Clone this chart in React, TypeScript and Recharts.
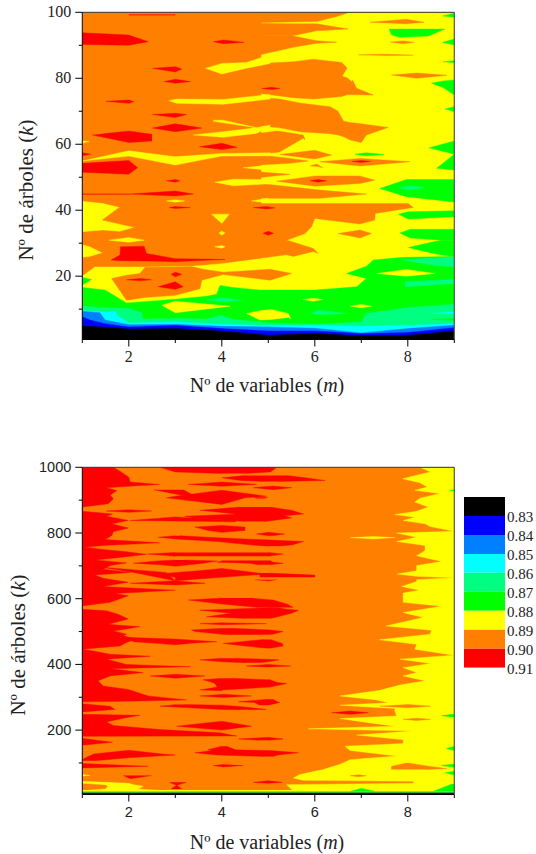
import React from "react";
import { ComposedChart, Area, XAxis, YAxis, ReferenceLine, Label } from "recharts";

type Row = [number, number, number];
type Patch = Row[];

const RED = "#ff0000", ORANGE = "#ff8000", YELLOW = "#ffff00", GREEN = "#00ff00", SPRING = "#00ff80",
  CYAN = "#00ffff", AZURE = "#0080ff", BLUE = "#0000ff", BLACK = "#000000";

// ---------- Upper map: rows are [m, k low, k high] ----------
const topBase: Patch[] = [[[1, 0.8, 100], [9, 0.8, 100]]];
const topYellowBase: Patch[] = [[[4.85, 0.8, 100], [9, 0.8, 100]]];
const topOrangeTongues: Patch[] = [
  [[4.82, 96.9, 100], [6.04, 97.2, 100], [6.47, 98.7, 100], [6.72, 99.9, 100]],
  [[4.82, 93.1, 96.7], [5.5, 92.8, 96.5], [6.04, 94.4, 96.5], [6.72, 94.9, 94.9]],
  [[4.82, 87.1, 93.1], [5.54, 89.4, 92.8], [6.04, 90.6, 91.4], [6.47, 90.9, 90.9]],
  [[4.82, 75.4, 84.5], [5.54, 74.1, 85], [5.97, 73.7, 85.8], [6.58, 74.5, 84.8], [6.7, 75, 83], [6.72, 75, 80.7], [6.83, 75, 79], [6.9, 75, 77], [7.26, 74.9, 74.9]],
  [[4.82, 65.5, 74.2], [5.25, 65, 73.7], [5.68, 63.8, 72.5], [6.33, 63.2, 71.4], [6.5, 62.8, 70], [6.62, 62.3, 67], [6.76, 61.3, 66.6], [7, 60.5, 66.2], [7.11, 62.8, 66], [7.58, 65.1, 65.1]],
  [[4.82, 57.2, 63.3], [5.18, 57.5, 64], [5.25, 57.7, 63.9], [5.75, 61.8, 62.8], [5.79, 61.3, 61.5]],
  [[4.82, 53.7, 56.7], [5.47, 54.2, 55.7], [5.86, 54.9, 54.9]],
  [[5.25, 56.9, 56.9], [6, 55.5, 58.2], [6.36, 56.7, 56.7]],
  [[6.11, 54.7, 54.7], [6.97, 53.4, 55.7], [8.05, 54.7, 54.7]],
  [[5.9, 53.4, 53.4], [6.04, 53.3, 54], [6.17, 52.9, 52.9]],
  [[7.19, 97, 97], [7.97, 96.5, 97.9], [8.35, 97, 97]],
  [[7.63, 91, 91], [7.9, 90.5, 91.3], [8.13, 90.9, 90.9]],
  [[6.94, 87.1, 87.1], [7.54, 86.9, 87.3], [8.12, 87, 87]],
  [[7.65, 81, 81], [8.19, 80, 81.6], [8.84, 80.9, 80.9]],
  [[4.82, 49.9, 51.6], [5.47, 50.9, 50.9]],
  [[5.18, 48.8, 48.8], [6, 47.3, 50.4], [6.97, 48.1, 50.4], [7.29, 49.1, 49.1]],
  [[4.82, 43.6, 48.1], [6.11, 43.6, 46.1], [7.11, 44.9, 44.9]],
  [[4.82, 30.9, 42], [5.39, 30.9, 42], [5.79, 32.9, 42], [5.93, 35, 42], [6, 37.5, 42], [6.97, 35.8, 42], [7.29, 37, 42], [7.3, 39, 42], [8.01, 40.6, 42], [8.12, 40.8, 40.8]],
  [[4.82, 25.4, 31], [5.39, 26.5, 31], [5.54, 26, 30.3], [5.97, 27.5, 28.4], [6.07, 26.9, 26.9]],
  [[6.5, 32.9, 32.9], [6.97, 31.6, 34], [7.22, 32.9, 32.9]],
];
const topYellowPatches: Patch[] = [
  [[6.6, 80.7, 80.7], [6.7, 80.2, 83], [6.8, 79, 84]],
  [[3.65, 83, 83], [4, 81.3, 84.5], [4.53, 83, 84.8], [5.04, 84.5, 87.1]],
  [[2.86, 73.2, 73.2], [3.03, 72.4, 73.7], [4.03, 72.1, 73.6], [5.04, 73.7, 75.1]],
  [[3.39, 62.8, 62.8], [4.03, 62.1, 63.8], [4.75, 63.3, 65], [5.04, 65.3, 65.8]],
  [[3.82, 67, 67.3], [4.03, 66.5, 67.3], [4.75, 65, 65]],
  [[1, 54.9, 54.9], [2, 56.4, 58], [3, 53.7, 56.2], [4, 56.4, 57.2], [5.04, 56.5, 57.4]],
  [[4.46, 52.9, 52.9], [5.04, 52, 53.7]],
  [[1, 60.3, 61], [1.15, 60.9, 60.9]],
  [[1, 33.5, 42.7], [1.45, 34, 42], [1.8, 33.6, 40.8], [2.11, 34.8, 34.8]],
  [[1.57, 30.9, 30.9], [2, 30.3, 31.7], [2.33, 30.9, 30.9]],
  [[3.78, 38.8, 38.8], [4, 36, 38.8], [4.16, 38.8, 38.8]],
  [[3.94, 33.1, 33.1], [4, 32.4, 33.7], [4.07, 33.1, 33.1]],
  [[3.85, 28.9, 28.9], [4, 28.5, 29.3], [4.07, 28.9, 28.9]],
  [[1, 25.7, 29.5], [1.16, 26, 28.9], [1.42, 27.1, 27.1]],
  [[3.85, 48.5, 48.5], [4.25, 47.4, 49.4], [5, 48, 49.3]],
  [[2.81, 42.8, 42.8], [3, 42.4, 43.2], [3.2, 42.8, 42.8]],
  [[4.64, 42.8, 42.8], [4.89, 42.4, 43.4], [5, 42.3, 43.6]],
  [[1, 0.8, 20], [1.27, 0.8, 22.8], [2.35, 0.8, 22.8], [3.35, 0.8, 23], [4, 0.8, 23.8], [4.9, 0.8, 25.4]],
];
const topOrangeOver: Patch[] = [
  [[1.43, 37, 37], [1.81, 35.8, 41], [2.11, 34.8, 41]],
  [[1.63, 19.3, 19.3], [1.95, 12.7, 20.3], [2.24, 13.3, 20.8], [2.35, 13.5, 22.7], [3, 14.2, 22.8], [3.35, 15.5, 22.9], [3.53, 16.2, 22.3], [3.57, 18.8, 22.2], [4.03, 20.5, 21.2], [5.04, 18.8, 22.1], [5.5, 20.8, 20.8]],
];
const topGreen: Patch[] = [
  [[7.6, 94.9, 94.9], [7.65, 93.1, 94.9], [7.83, 92.4, 94.9], [8.44, 92.8, 94.9], [8.8, 94.9, 94.9]],
  [[8.75, 98.9, 98.9], [9, 98.5, 99.7]],
  [[8.75, 90.9, 90.9], [9, 90.1, 91.9]],
  [[8.76, 85, 85], [9, 84.7, 85.3]],
  [[8.51, 78.5, 78.5], [8.76, 77.2, 79.2], [9, 74.9, 79.5]],
  [[8.8, 70.7, 70.7], [9, 69.9, 71.4]],
  [[8.46, 58.9, 58.9], [9, 57, 61]],
  [[8.62, 52.7, 52.7], [9, 52.2, 57]],
  [[6.86, 57, 57], [7.11, 56.5, 57.4], [7.49, 56.9, 56.9]],
  [[7.4, 46.6, 46.6], [7.97, 44.1, 49.3], [9, 42.5, 49.3]],
  [[7.8, 38.8, 38.8], [8.01, 37.3, 39.5], [9, 38, 39.8]],
  [[7.83, 33.1, 33.1], [8.05, 31.6, 34.2], [8.73, 30.9, 34.2], [9, 30.9, 34.2]],
  [[8.01, 28.7, 28.7], [8.55, 26.9, 30.4], [8.73, 26.4, 30.9], [9, 26, 30.9]],
  [[1, 17.3, 19.6], [1.2, 19, 19]],
  [[6.68, 20.8, 20.8], [7.11, 19.3, 23], [7.26, 18, 24.9]],
  [[1, 0.8, 16.6], [1.49, 0.8, 15.8], [1.95, 0.8, 11.9], [3, 0.8, 13], [3.67, 0.8, 13.9], [3.89, 0.8, 14.5], [3.96, 0.8, 17.2], [4.25, 0.8, 16.6], [4.82, 0.8, 15.8], [6, 0.8, 15.8], [6.9, 0.8, 16.8], [7.11, 0.8, 19.3], [7.26, 0.8, 24.9], [7.9, 0.8, 25.7], [9, 0.8, 26]],
];
const topYellowLenses: Patch[] = [
  [[2.71, 11.2, 11.2], [3, 8.9, 12.4], [4.18, 10.9, 10.9]],
  [[7.33, 20.8, 20.8], [7.97, 20, 22], [8.58, 20.8, 20.8]],
  [[5.75, 12.9, 12.9], [5.97, 12.4, 13.3], [6.18, 12.9, 12.9]],
  [[6.76, 10.9, 10.9], [7, 10.4, 11.4], [7.22, 10.9, 10.9]],
  [[4.53, 8.7, 8.7], [4.82, 6.7, 9.5], [5.07, 6.9, 9.9], [5.43, 7.5, 8.7], [5.49, 7, 7]],
];
const topSpring: Patch[] = [
  [[7.87, 25, 25], [8.48, 23.5, 25.4], [9, 22.8, 25.9]],
  [[7.94, 16.8, 18.3], [9, 17.8, 19]],
  [[3.67, 12.9, 12.9], [4.03, 12.2, 13.4], [4.43, 12.7, 12.7]],
  [[7.8, 46.8, 46.8], [8.05, 46.2, 47.4], [8.35, 46.8, 46.8]],
  [[5.93, 8.7, 8.7], [6.07, 8.4, 9.7], [6.72, 8.7, 8.7]],
  [[1, 0.8, 10.9], [1.49, 0.8, 10.5], [2, 0.8, 10.2], [2.28, 0.8, 8.9], [2.3, 0.8, 7], [3, 0.8, 7.2], [3.67, 0.8, 7], [4, 0.8, 8.2], [4.25, 0.8, 6.9], [5, 0.8, 5.9], [6, 0.8, 5.4], [7, 0.8, 6.1], [7.11, 0.8, 8.7], [8, 0.8, 10.5], [9, 0.8, 11.5]],
];
const topGreenInner: Patch[] = [[[8.51, 6.9, 6.9], [9, 6.6, 7.2]]];
const topCyan: Patch[] = [
  [[8.51, 8.7, 8.7], [9, 8.6, 9.2]],
  [[1, 0.8, 9.6], [1.38, 0.8, 9.2], [1.72, 0.8, 9.2], [1.76, 0.8, 8], [2, 0.8, 5.8], [3, 0.8, 6.1], [4, 0.8, 5.4], [5, 0.8, 5.1], [6, 0.8, 5.1], [7, 0.8, 4.8], [8, 0.8, 5.1], [9, 0.8, 5.6]],
];
const topAzure: Patch[] = [[[1, 0.8, 9.4], [1.38, 0.8, 8.9], [1.49, 0.8, 6.7], [2, 0.8, 5.3], [3, 0.8, 5.4], [4, 0.8, 4.8], [5, 0.8, 4.6], [6, 0.8, 4.2], [7, 0.8, 2.8], [8, 0.8, 4.1], [9, 0.8, 5.1]]];
const topBlue: Patch[] = [[[1, 0.8, 7.7], [1.16, 0.8, 6.7], [1.49, 0.8, 5.6], [2, 0.8, 4.6], [3, 0.8, 5.1], [4, 0.8, 4.1], [5, 0.8, 3.4], [6, 0.8, 3.4], [7, 0.8, 2.6], [8, 0.8, 2.9], [9, 0.8, 4.4]]];
const topBlack: Patch[] = [[[1, 0.8, 4.8], [1.49, 0.8, 4.6], [2, 0.8, 4], [3, 0.8, 4.1], [4, 0.8, 3.4], [5, 0.8, 2.1], [6, 0.8, 2.6], [7, 0.8, 1.9], [8, 0.8, 2.1], [9, 0.8, 3.4]]];
const topRed: Patch[] = [
  [[1, 90.2, 93.8], [2, 90, 93.1], [2.42, 91.1, 91.1]],
  [[3.82, 91.1, 91.1], [4.03, 90.5, 91.6], [4.48, 90.9, 90.9]],
  [[2.51, 83, 83], [3, 81.9, 83.5], [3.14, 82.8, 82.8]],
  [[2.76, 79, 79], [3, 78.5, 79.7], [3.33, 79, 79]],
  [[1.51, 73, 73], [2, 72.4, 73.4], [2.11, 72.9, 72.9]],
  [[2.51, 69, 69], [3, 68.1, 69.4], [3.24, 69, 69]],
  [[2.51, 64.9, 64.9], [3, 63.8, 66.2], [3.57, 64.9, 64.9]],
  [[1.22, 62.8, 62.8], [2, 60.5, 64], [2.5, 61, 63]],
  [[3.52, 59.2, 59.2], [4, 58.4, 60.3], [4.33, 59.05, 59.05]],
  [[1, 56.5, 57.4], [1.18, 57, 57]],
  [[1, 51.5, 54.2], [2, 50.9, 55.1], [2.19, 52.9, 52.9]],
  [[4.86, 76.9, 76.9], [5.07, 76.6, 77.3], [5.25, 76.9, 76.9]],
  [[2.81, 48.9, 48.9], [3, 48.5, 49.3], [3.1, 48.9, 48.9]],
  [[2.03, 44.9, 44.9], [3, 44.3, 45.8], [3.39, 44.9, 44.9]],
  [[1, 44.85, 44.95], [2.03, 44.85, 44.95]],
  [[2, 99.15, 99.25], [3, 99.15, 99.25]],
  [[2.87, 40.8, 40.8], [3, 40.5, 41.1], [3.32, 40.8, 40.8]],
  [[4.68, 40.8, 40.8], [4.96, 40.4, 41.1], [5.14, 40.7, 40.7]],
  [[4.89, 33, 33], [5, 32.4, 33.6], [5.11, 33, 33]],
  [[1.62, 24.9, 24.9], [1.81, 24.7, 26.4], [1.82, 24.7, 28.9], [2.33, 24.6, 29.1], [2.38, 24.6, 26.9], [3, 24.4, 25.3], [4.07, 25.1, 25.1]],
  [[1.95, 18.9, 18.9], [2.24, 18.6, 19.3], [2.49, 18.9, 18.9]],
  [[2.91, 20.6, 20.6], [3, 19.8, 21.2], [3.14, 20.6, 20.6]],
  [[2.63, 16.8, 16.8], [3, 16, 18.3], [3.17, 16.8, 16.8]],
  [[5.9, 48.9, 48.9], [6.07, 48.5, 49.3], [6.25, 48.9, 48.9]],
  [[6.8, 54.8, 54.8], [7, 54.5, 55.1], [7.2, 54.8, 54.8]],
];

// ---------- Lower map: rows are [k, m low, m high] ----------
const lowBase: Patch[] = [[[1000, 1, 9], [4, 1, 9]]];
const lowRedEdge: Patch[] = [[
  [1000, 1, 1.67], [988, 1, 1.81], [970, 1, 2], [955, 1, 2.03], [948, 1, 2.66], [942, 1, 1.99], [938, 1, 1.52], [929, 1, 1.74], [915, 1, 1.6], [904, 1, 1.67], [889, 1, 1.56], [879, 1, 1.01], [866, 1, 1.01], [858, 1, 1.65], [851, 1, 1.52], [838, 1, 1.99], [828, 1, 1.63], [815, 1, 1.99], [804, 1, 1.67], [792, 1, 1.63], [780, 1, 1.49], [770, 1, 2.66], [762, 1, 1.45], [757, 1, 1.06], [750, 1, 1.45], [743, 1, 1.95], [735, 1, 2.38], [728, 1, 1.95], [718, 1, 1.29], [709, 1, 1.95], [701, 1, 1.6], [690, 1, 1.45], [680, 1, 2.03], [672, 1, 1.27], [662, 1, 1.45], [650, 1, 1.99], [637, 1, 1.44], [626, 1, 3], [616, 1, 1.7], [609, 1, 1.99], [589, 1, 1.6], [578, 1, 1], [568, 1, 1], [563, 1, 1.52], [553, 1, 1.77], [538, 1, 1.99], [522, 1, 1.56], [515, 1, 2.24], [502, 1, 1.67],
  [492, 1, 1.95], [487, 1, 1.88], [477, 1, 2.17], [467, 1, 1.95], [456, 1, 1.81], [446, 1, 1], [441, 1, 1.24], [431, 1, 1.6], [425, 1, 2.46], [416, 1, 1.52], [400, 1, 1.95], [393, 1, 3.32], [387, 1, 1.6], [375, 1, 2.31], [365, 1, 1.6], [350, 1, 1.34], [334, 1, 1.45], [324, 1, 1.99], [304, 1, 2.42], [292, 1, 3.24], [288, 1, 1.95], [286, 1, 1], [280, 1, 1], [273, 1, 1.6], [263, 1, 1.7], [255, 1, 1], [248, 1, 1], [245, 1, 2.24], [236, 1, 1.88], [225, 1, 1.52], [214, 1, 1.67], [202, 1, 2.67], [192, 1, 3.96], [182, 1, 4.32], [181, 1, 1], [175, 1, 1], [163, 1, 1.65], [154, 1, 1],
]];
const lowYellowEdge: Patch[] = [[
  [1000, 8.26, 9], [986, 8.49, 9], [976, 8.19, 9], [965, 7.89, 9], [953, 8.26, 9], [940, 8.42, 9], [930, 8.15, 9], [920, 8.69, 9], [906, 8.26, 9], [894, 8.15, 9], [879, 8.44, 9], [866, 8.19, 9], [856, 7.72, 9], [848, 8.15, 9], [838, 7.9, 9], [828, 8.37, 9], [820, 8.48, 9], [805, 8.99, 9], [800, 7.76, 9], [787, 8.19, 9], [774, 7.76, 9], [762, 8.37, 9], [746, 8.37, 9], [731, 8.19, 9], [713, 8.73, 9], [701, 8.19, 9], [685, 8.19, 9], [675, 7.77, 9], [668, 8.19, 9], [664, 8.99, 9], [658, 8.19, 9], [652, 8.19, 9], [637, 7.87, 9], [626, 8.25, 9], [617, 7.9, 9], [589, 7.9, 9], [577, 8.73, 9], [558, 7.9, 9], [543, 8.33, 9], [517, 7.53, 9], [504, 8.51, 9], [492, 8.48, 9], [475, 7.39, 9], [461, 8.19, 9], [446, 8.15, 9], [428, 8.99, 9], [416, 7.83, 9], [403, 8.49, 9], [390, 7.9, 9], [375, 8.19, 9], [365, 7.9, 9],
  [350, 8.37, 9], [337, 7.83, 9], [321, 7.4, 9], [304, 6.54, 9], [292, 7.33, 9], [283, 7.58, 9], [276, 6.54, 9], [272, 6.97, 9], [266, 7.72, 9], [258, 7.72, 9], [243, 7.76, 9], [235, 6.54, 9], [222, 7.19, 9], [212, 7.72, 9], [204, 5.86, 9], [197, 8.1, 9], [185, 6.9, 9], [171, 7.9, 9], [159, 7.9, 9], [151, 6.65, 9], [138, 6.76, 9], [121, 7.76, 9], [110, 6.76, 9], [95, 6.53, 9], [80, 6.18, 9], [65, 5.68, 9], [54, 5.54, 9], [47, 5.75, 9], [44, 8.12, 9], [38, 8.12, 9], [34, 5.39, 9], [24, 5.47, 9], [14, 5.54, 9],
]];
const lowOrangeOnYellow: Patch[] = [
  [[278, 8, 8], [273, 7.4, 8.49], [268, 8, 8]],
  [[236, 8.19, 8.19], [233, 7.9, 8.49], [229, 8.19, 8.19]],
  [[100, 7.98, 8], [90, 7.65, 8.45], [83, 7.65, 8.84], [80, 7.65, 8.4]],
  [[64, 6.94, 6.94], [61, 6.76, 7.1], [58, 6.94, 6.94]],
];
const lowGreenRight: Patch[] = [
  [[932, 9, 9], [930, 8.9, 9], [928, 9, 9]],
  [[248, 8.95, 9], [244, 8.72, 9], [240, 8.95, 9]],
  [[151, 9, 9], [144, 8.83, 9], [138, 9, 9]],
  [[97, 9, 9], [92, 8.72, 9], [87, 9, 9]],
  [[75, 9, 9], [70, 8.8, 9], [63, 9, 9]],
];
const lowRedLenses: Patch[] = [
  [[139, 2, 2], [127, 1.24, 2.73], [124, 1.2, 3], [116, 1.07, 2], [110, 1, 1.52], [107, 1, 1.24]],
  [[98, 1, 1], [90, 1, 2.42], [85, 1, 1]],
  [[1000, 2.67, 5.18], [986, 3, 5.05], [981, 4, 4.5]],
  [[975, 4.5, 5.4], [968, 4, 5.8], [960, 4.4, 6.22], [957, 4.9, 5.2]],
  [[955, 4, 4], [948, 3.28, 4.75], [942, 4, 4]],
  [[943, 5.1, 5.1], [938, 4.68, 5.5], [932, 5.1, 5.1]],
  [[932, 2.53, 3.17], [914, 3.17, 3.4]],
  [[930, 4, 4], [912, 3, 4.96], [907, 2.81, 4.5], [887, 4, 4]],
  [[909, 4.7, 5], [905, 4.75, 4.9]],
  [[879, 4.4, 5.04], [869, 3.53, 5.5], [858, 4.3, 5.76], [853, 4.9, 5.4]],
  [[863, 4.5, 5.04], [857, 4.25, 5.3], [851, 3.2, 5.4], [846, 3.4, 5.5], [838, 4.2, 5.1], [835, 4.5, 4.9]],
  [[849, 3, 3], [838, 2.03, 4.3], [834, 4.3, 4.3]],
  [[871, 2, 2], [867, 1.52, 2.49], [863, 2, 2]],
  [[823, 4, 4], [818, 3.42, 4.5], [808, 3.7, 4.5], [802, 4, 4]],
  [[802, 5, 5], [797, 4.75, 5.35], [792, 5, 5.1]],
  [[792, 3, 3.1], [787, 2.63, 3.7], [782, 3, 4.5], [774, 3.9, 5.76], [764, 4.6, 5.53], [760, 5, 5.2]],
  [[741, 3, 5], [736, 2.4, 5.32], [729, 3, 5]],
  [[718, 3, 3.2], [715, 2.6, 3.9], [708, 2.1, 3.6], [703, 2.7, 3.3], [699, 3, 3]],
  [[716, 4.03, 5.04], [711, 3.9, 5.1], [708, 4.6, 5.32], [703, 4.8, 5.04]],
  [[692, 4, 4], [685, 3.5, 4.4], [675, 2.6, 4.96], [665, 3, 4], [655, 3, 3.01]],
  [[695, 1.45, 1.5], [680, 2.1, 2.8], [655, 3, 3]],
  [[678, 4.8, 5], [672, 4.82, 6], [665, 4.82, 6]],
  [[658, 4.71, 5.18], [654, 5, 5]],
  [[655, 3, 3], [647, 2.03, 3.64], [642, 3, 3]],
  [[602, 4, 4.6], [596, 3.28, 5.1], [584, 4, 5.4], [573, 4.8, 5.54]],
  [[573, 5.1, 5.2], [568, 4.1, 5.4], [565, 3.53, 5.65], [556, 4.2, 5.5], [545, 3.67, 5.2], [540, 4.5, 5.04]],
  [[527, 4, 4], [524, 3.53, 4.96], [521, 4, 4]],
  [[510, 4, 4.2], [505, 3.35, 5.04], [500, 3.42, 5.32], [492, 4, 5.1], [490, 4.2, 4.8]],
  [[482, 1.95, 2.05], [477, 2, 3], [469, 2.1, 3.89], [465, 2.5, 3.4], [460, 3, 3]],
  [[476, 4.9, 5.04], [464, 4.03, 5.3], [456, 4.5, 5.32], [449, 5, 5.04]],
  [[419, 4, 4.3], [414, 3.53, 5.23], [408, 4, 5], [405, 4.5, 4.8]],
  [[400, 5, 5], [395, 4.53, 5.48], [392, 5, 5]],
  [[370, 3, 3], [365, 2.46, 3.64], [358, 3, 3]],
  [[358, 4, 4.2], [353, 3.6, 5.04], [345, 3.8, 5.2], [342, 3.85, 5.4], [331, 3.9, 5.04], [322, 3.53, 4], [320, 4, 4]],
  [[309, 4.03, 4.03], [304, 3.53, 4.64], [299, 4.03, 4.03]],
  [[294, 5, 5.1], [286, 4.36, 5.2], [284, 4.7, 5.25], [276, 4.82, 5]],
  [[278, 3, 3.2], [276, 2.9, 4], [273, 2.67, 4.3], [270, 3, 4.5], [263, 4, 4.96], [262, 4.4, 4.6]],
  [[258, 6.76, 6.76], [253, 6.36, 7.15], [248, 6.76, 6.76]],
  [[227, 4, 4], [212, 3.03, 4.64], [200, 4, 4]],
  [[178, 5, 5], [173, 4.36, 5.32], [169, 4.8, 5]],
  [[151, 4, 4.1], [140, 3.7, 4.3], [138, 3.8, 5.04], [131, 3.42, 5.65], [124, 3.9, 5.2], [120, 4.9, 5.1]],
  [[95, 4.03, 4.03], [92, 3.82, 4.46], [88, 4.03, 4.03]],
  [[46, 5, 5], [41, 4.68, 5.3], [38, 5, 5]],
  [[62, 1.88, 2.49], [52, 2.03, 2.05]],
  [[41, 2.87, 3.24], [32, 3.03, 3.03], [21, 2.91, 3.14]],
];
const lowYellowLenses: Patch[] = [
  [[789, 7.26, 7.26], [786, 6.77, 7.72], [782, 7.26, 7.26]],
  [[65, 1, 1], [62, 1, 1.16], [60, 1, 1]],
  [[44, 1, 1], [38, 1, 2], [34, 1.5, 2.1], [29, 1.55, 2.31], [21, 1.5, 2.2], [18, 1.2, 2.5], [13, 1, 3]],
  [[18, 1, 9], [12, 1, 9]],
];
const lowGreen: Patch[] = [
  [[36, 8.95, 9], [22, 8.7, 9], [14, 8.55, 9]],
  [[23, 7, 7], [13, 6.76, 7.3]],
  [[13, 1, 9], [9, 1, 9]],
];
const lowBlue: Patch[] = [[[9, 1, 9], [7, 1, 9]]];
const lowBlack: Patch[] = [[[8, 1, 9], [4, 1, 9]]];

// ---------- Colour scale ----------
const scaleLevels = [0.82, 0.83, 0.84, 0.85, 0.86, 0.87, 0.88, 0.89, 0.9, 0.91];
const scaleColors = [BLACK, BLUE, AZURE, CYAN, SPRING, GREEN, YELLOW, ORANGE, RED];
const scaleTicks = [0.83, 0.84, 0.85, 0.86, 0.87, 0.88, 0.89, 0.9, 0.91];

const mTicks = [1, 2, 3, 4, 5, 6, 7, 8, 9];
const topKTicks = [10, 20, 30, 40, 50, 60, 70, 80, 90, 100];
const lowKTicks = [100, 200, 300, 400, 500, 600, 700, 800, 900, 1000];
const topKLabels = [20, 40, 60, 80, 100];
const lowKLabels = [200, 400, 600, 800, 1000];
const mLabels = [2, 4, 6, 8];

type Layer = [string, Patch[]];
const topLayers: Layer[] = [
  [ORANGE, topBase], [YELLOW, topYellowBase], [ORANGE, topOrangeTongues], [YELLOW, topYellowPatches],
  [ORANGE, topOrangeOver], [GREEN, topGreen], [YELLOW, topYellowLenses], [SPRING, topSpring],
  [GREEN, topGreenInner], [CYAN, topCyan], [AZURE, topAzure], [BLUE, topBlue], [BLACK, topBlack], [RED, topRed],
];
const lowLayers: Layer[] = [
  [ORANGE, lowBase], [RED, lowRedEdge], [YELLOW, lowYellowEdge], [ORANGE, lowOrangeOnYellow],
  [GREEN, lowGreenRight], [RED, lowRedLenses], [YELLOW, lowYellowLenses], [GREEN, lowGreen],
  [BLUE, lowBlue], [BLACK, lowBlack],
];

const SANS = "'Liberation Sans', Arial, sans-serif";
const SERIF = "'Liberation Serif', 'Times New Roman', serif";

const toRows = (p: Patch) => p.map(([a, lo, hi]) => ({ a, v: [lo, hi] }));

const renderLayers = (layers: Layer[]) =>
  layers.flatMap(([fill, patches], i) =>
    patches.map((p, j) => (
      <Area
        key={`${i}-${j}`}
        data={toRows(p)}
        dataKey="v"
        type="linear"
        fill={fill}
        fillOpacity={1}
        stroke={fill}
        strokeWidth={0.4}
        dot={false}
        activeDot={false}
        isAnimationActive={false}
      />
    ))
  );

const makeXTick = (font: string, size: number) => ({ x, y, payload }: any) => {
  const major = mLabels.includes(payload.value);
  return (
    <g>
      <line x1={x} x2={x} y1={y} y2={y + (major ? 7 : 3.5)} stroke="#000" />
      {major && (
        <text x={x} y={y + 22} textAnchor="middle" fontFamily={font} fontSize={size} fill="#222">
          {payload.value}
        </text>
      )}
    </g>
  );
};

const makeYTick = (labels: number[], font: string, size: number) => ({ x, y, payload }: any) => {
  const major = labels.includes(payload.value);
  return (
    <g>
      <line x1={x} x2={x - (major ? 7 : 3.5)} y1={y} y2={y} stroke="#000" />
      {major && (
        <text x={x - 11} y={y + 5} textAnchor="end" fontFamily={font} fontSize={size} fill="#222">
          {payload.value}
        </text>
      )}
    </g>
  );
};

const Title = ({ x, y, rotate, head, italic }: any) => (
  <text
    x={x}
    y={y}
    textAnchor="middle"
    fontFamily={SERIF}
    fontSize={rotate ? 21 : 20}
    fill="#222"
    transform={rotate ? `rotate(-90 ${x} ${y})` : undefined}
  >
    {head}(<tspan fontStyle="italic">{italic}</tspan>)
  </text>
);

const Panel = ({ layout, layers, domain, kTicks, kLabels, top, yTitleX, yTitleY, xTitleY, font, size }: any) => {
  const vertical = layout === "vertical";
  const XT = makeXTick(font, size);
  return (
    <div style={{ position: "absolute", left: 0, top: top, width: 536, height: 420 }}>
      <ComposedChart
        width={536}
        height={420}
        layout={layout}
        margin={{ left: 22.3, right: 81.7, top: 12.3, bottom: 30.5 }}
      >
        <XAxis
          type="number"
          dataKey={vertical ? undefined : "a"}
          domain={[1, 9]}
          ticks={mTicks}
          interval={0}
          allowDataOverflow
          height={50}
          stroke="#000"
          tickLine={false}
          tickSize={0}
          tickMargin={0}
          tick={XT}
        >
          <Label content={() => <Title x={267} y={xTitleY} head="Nº de variables " italic="m" />} />
        </XAxis>
        <YAxis
          type="number"
          dataKey={vertical ? "a" : undefined}
          domain={domain}
          reversed={vertical}
          ticks={kTicks}
          interval={0}
          allowDataOverflow
          width={60}
          stroke="#000"
          tickLine={false}
          tickSize={0}
          tickMargin={0}
          tick={makeYTick(kLabels, font, size)}
        >
          <Label content={() => <Title x={yTitleX} y={yTitleY} rotate head="Nº de árboles " italic="k" />} />
        </YAxis>
        {renderLayers(layers)}
        <ReferenceLine x={9} stroke="#555" strokeWidth={1.2} />
        <ReferenceLine y={domain[1]} stroke="#333" strokeWidth={1} />
      </ComposedChart>
    </div>
  );
};

const ScaleTick = ({ x, y, payload }: any) => (
  <text x={x + 2} y={y + 6} fontFamily={SERIF} fontSize={15} fill="#222">
    {payload.value.toFixed(2)}
  </text>
);

const ColorScale = () => (
  <div style={{ position: "absolute", left: 464, top: 497, width: 72, height: 185 }}>
    <ComposedChart width={72} height={185} margin={{ left: 0, right: 0, top: 0, bottom: 14.3 }}>
      <XAxis type="number" dataKey="a" domain={[0, 1]} hide />
      <YAxis
        type="number"
        orientation="right"
        reversed
        domain={[0.82, 0.91]}
        ticks={scaleTicks}
        interval={0}
        allowDataOverflow
        width={31}
        axisLine={false}
        tickLine={false}
        tickSize={0}
        tickMargin={0}
        tick={<ScaleTick />}
      />
      {scaleColors.map((c, i) => (
        <Area
          key={c}
          data={toRows([[0, scaleLevels[i], scaleLevels[i + 1]], [1, scaleLevels[i], scaleLevels[i + 1]]])}
          dataKey="v"
          type="linear"
          fill={c}
          fillOpacity={1}
          stroke="none"
          dot={false}
          activeDot={false}
          isAnimationActive={false}
        />
      ))}
    </ComposedChart>
  </div>
);

export default function App() {
  return (
    <div style={{ position: "absolute", left: 0, top: 0, width: 536, height: 854, background: "#fff", overflow: "hidden" }}>
      <Panel
        layout="horizontal"
        layers={topLayers}
        domain={[0.8, 100]}
        kTicks={topKTicks}
        kLabels={topKLabels}
        top={0}
        yTitleX={33}
        yTitleY={190}
        xTitleY={392}
        font={SERIF}
        size={16}
      />
      <Panel
        layout="vertical"
        layers={lowLayers}
        domain={[4, 1000]}
        kTicks={lowKTicks}
        kLabels={lowKLabels}
        top={455}
        yTitleX={25}
        yTitleY={190}
        xTitleY={394}
        font={SANS}
        size={14.5}
      />
      <ColorScale />
    </div>
  );
}
